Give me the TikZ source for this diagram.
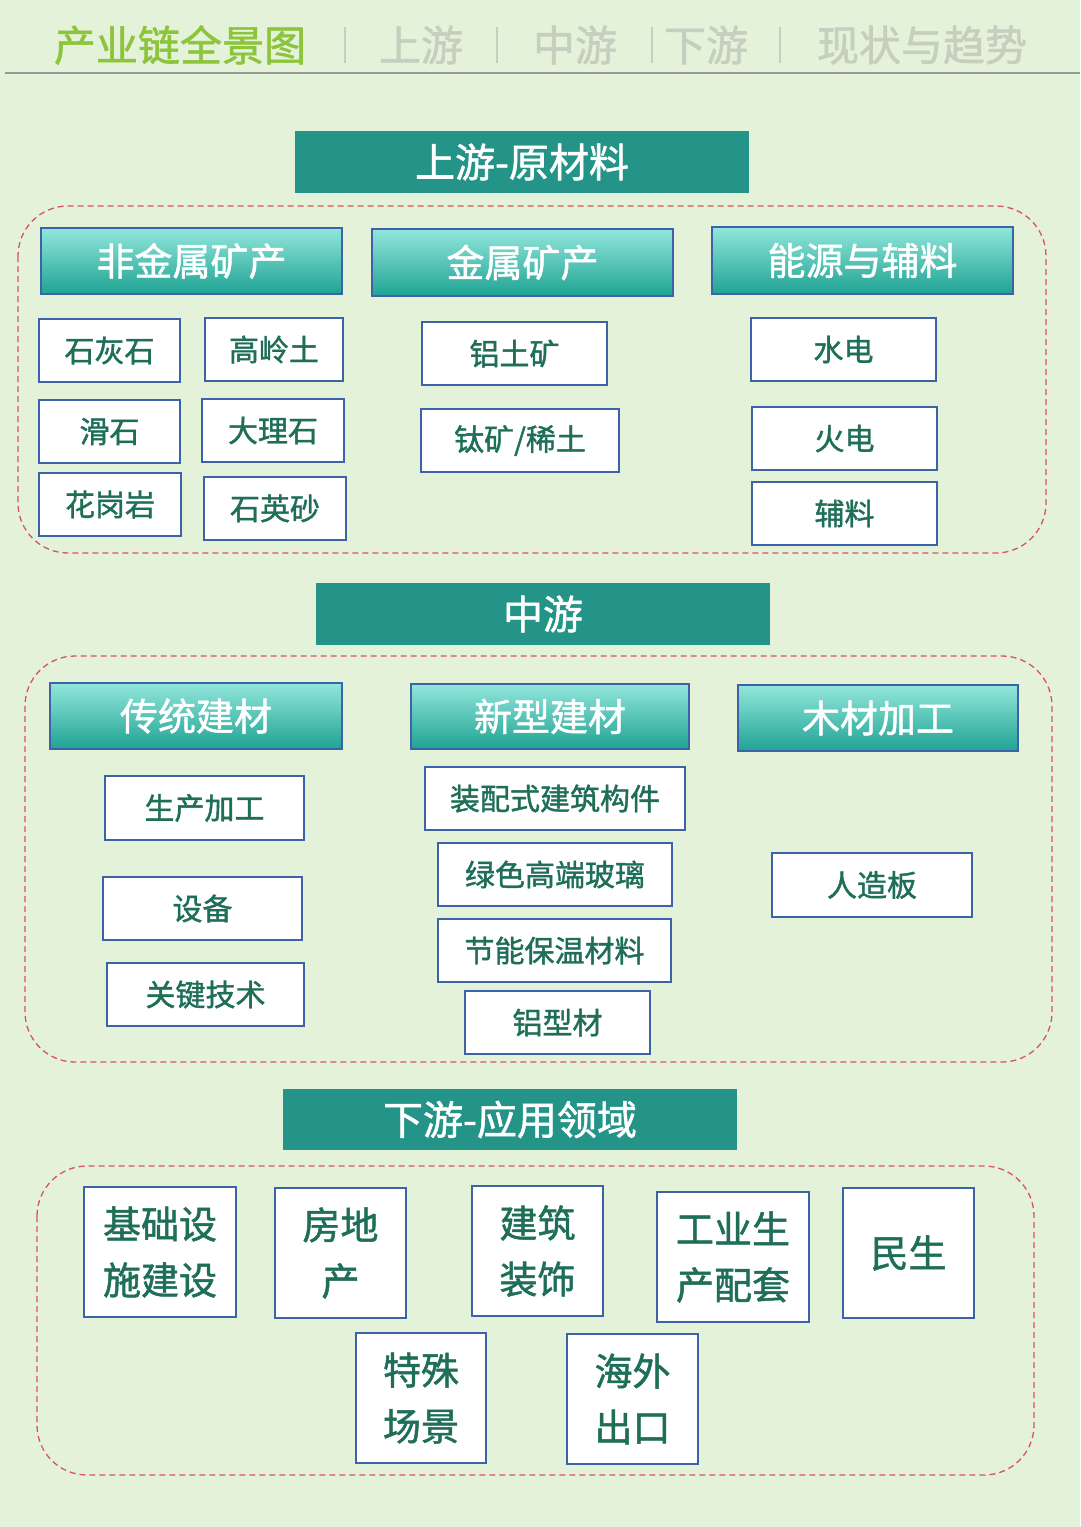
\documentclass[tikz,border=0pt]{standalone}
\usepackage{fontspec}
\setmainfont{Noto Sans CJK SC}
\newfontfamily\medf[FakeBold=1.3]{Noto Sans CJK SC}
\definecolor{bg}{HTML}{E3F2D9}
\definecolor{tealc}{HTML}{259488}
\definecolor{gtop}{HTML}{92E6DB}
\definecolor{gbot}{HTML}{1FA393}
\definecolor{bord}{HTML}{3D62A8}
\definecolor{txt}{HTML}{1E6E58}
\definecolor{dashc}{HTML}{D9545F}
\definecolor{grayc}{HTML}{C5CEBF}
\definecolor{tgreen}{HTML}{8CC43C}
\newcommand\bx[7]{\node[#5,minimum width=#3pt-#1pt,minimum height=#4pt-#2pt] (#6) at ({(#1+#3)/2},{(#2+#4)/2}) {#7};}
\newcommand\reg[5]{\draw[dashc,line width=1.3pt,dash pattern=on 6pt off 4pt,rounded corners=50pt] (#1,#2) rectangle (#3,#4) node[coordinate] (#5) {};}
\tikzset{
 bar/.style={fill=tealc,draw=none,inner sep=0pt,text=white,font=\fontsize{40}{42}\medf},
 ghead/.style={top color=gtop,bottom color=gbot,draw=bord,line width=1.3pt,inner sep=0pt,text=white,font=\fontsize{38}{40}\medf},
 wbox/.style={fill=white,draw=bord,line width=1.3pt,inner sep=0pt,text=txt,font=\fontsize{30}{32}\medf},
 dbox/.style={fill=white,draw=bord,line width=1.3pt,inner sep=0pt,text=txt,align=center,font=\fontsize{38}{56}\medf},
 ttl/.style={inner sep=0pt,font=\fontsize{42}{44}\medf},
}
\begin{document}
\begin{tikzpicture}[x=1pt,y=-1pt]
\fill[bg] (0,0) rectangle (1080,1527);
\useasboundingbox (0,0) rectangle (1080,1527);
% title row
\node[ttl,text=tgreen] (t0) at (180,45) {产业链全景图};
\node[ttl,text=grayc] (t1) at (421,45) {上游};
\node[ttl,text=grayc] (t2) at (575,45) {中游};
\node[ttl,text=grayc] (t3) at (706,45) {下游};
\node[ttl,text=grayc] (t4) at (922,45) {现状与趋势};
\foreach \x/\n in {345/s1,497/s2,652/s3,780/s4}{\draw[grayc,line width=2pt] (\x,27) -- (\x,63) node[coordinate] (\n) {};}
\draw[black!40,line width=2pt] (5,73) -- (1080,73) node[coordinate] (tl) {};
% regions
\reg{18}{206}{1046}{553}{r1}
\reg{25}{656}{1052}{1062}{r2}
\reg{37}{1166}{1034}{1475}{r3}
% bars
\bx{295}{131}{749}{193}{bar}{b1}{上游-原材料}
\bx{316}{583}{770}{645}{bar}{b2}{中游}
\bx{283}{1089}{737}{1150}{bar}{b3}{下游-应用领域}
% gradient heads
\bx{41}{228}{342}{294}{ghead}{h1}{非金属矿产}
\bx{372}{229}{673}{296}{ghead}{h2}{金属矿产}
\bx{712}{227}{1013}{294}{ghead}{h3}{能源与辅料}
\bx{50}{683}{342}{749}{ghead}{h4}{传统建材}
\bx{411}{684}{689}{749}{ghead}{h5}{新型建材}
\bx{738}{685}{1018}{751}{ghead}{h6}{木材加工}
% upstream boxes
\bx{39}{319}{180}{382}{wbox}{u1}{石灰石}
\bx{205}{318}{343}{381}{wbox}{u2}{高岭土}
\bx{39}{400}{180}{463}{wbox}{u3}{滑石}
\bx{202}{399}{344}{462}{wbox}{u4}{大理石}
\bx{39}{473}{181}{536}{wbox}{u5}{花岗岩}
\bx{204}{477}{346}{540}{wbox}{u6}{石英砂}
\bx{422}{322}{607}{385}{wbox}{u7}{铝土矿}
\bx{421}{409}{619}{472}{wbox}{u8}{钛矿/稀土}
\bx{751}{318}{936}{381}{wbox}{u9}{水电}
\bx{752}{407}{937}{470}{wbox}{u10}{火电}
\bx{752}{482}{937}{545}{wbox}{u11}{辅料}
% midstream
\bx{105}{776}{304}{840}{wbox}{m1}{生产加工}
\bx{103}{877}{302}{940}{wbox}{m2}{设备}
\bx{107}{963}{304}{1026}{wbox}{m3}{关键技术}
\bx{425}{767}{685}{830}{wbox}{m4}{装配式建筑构件}
\bx{438}{843}{672}{906}{wbox}{m5}{绿色高端玻璃}
\bx{438}{919}{671}{982}{wbox}{m6}{节能保温材料}
\bx{465}{991}{650}{1054}{wbox}{m7}{铝型材}
\bx{772}{853}{972}{917}{wbox}{m8}{人造板}
% downstream
\bx{84}{1187}{236}{1317}{dbox}{d1}{基础设\\施建设}
\bx{275}{1188}{406}{1318}{dbox}{d2}{房地\\产}
\bx{472}{1186}{603}{1316}{dbox}{d3}{建筑\\装饰}
\bx{657}{1192}{809}{1322}{dbox}{d4}{工业生\\产配套}
\bx{843}{1188}{974}{1318}{dbox}{d5}{民生}
\bx{356}{1333}{486}{1463}{dbox}{d6}{特殊\\场景}
\bx{567}{1334}{698}{1464}{dbox}{d7}{海外\\出口}
\end{tikzpicture}
\end{document}
